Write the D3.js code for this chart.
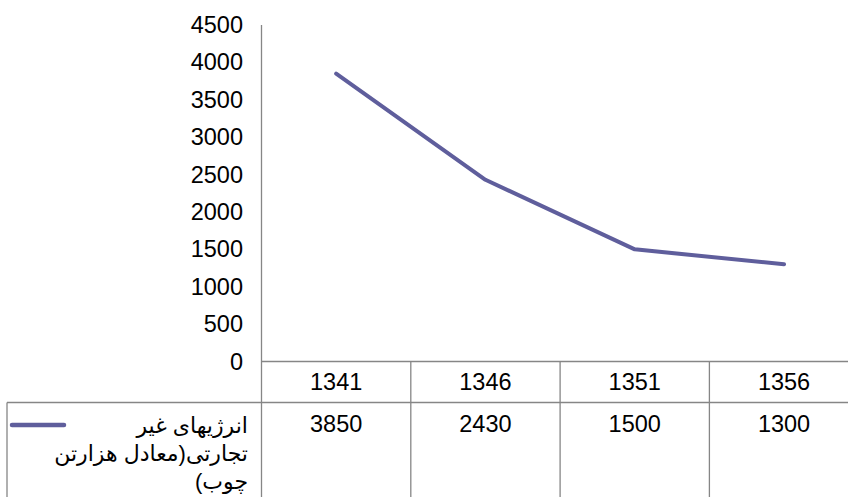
<!DOCTYPE html>
<html>
<head>
<meta charset="utf-8">
<script src="https://cdn.jsdelivr.net/npm/d3@7"></script>
<style>
  body { margin: 0; background: #fff; }
  svg text { font-family: "Liberation Sans", Arial, "DejaVu Sans", sans-serif; fill: #000; }
</style>
</head>
<body>
<div id="chart"></div>
<script>
// chart data
const years = ["1341", "1346", "1351", "1356"];
const values = [3850, 2430, 1500, 1300];
const seriesLabel = ["انرژیهای غیر", "تجارتی(معادل هزارتن", "چوب)"];
const yTicks = [0, 500, 1000, 1500, 2000, 2500, 3000, 3500, 4000, 4500];

const width = 848, height = 497;
const plotLeft = 261.5, plotTop = 25, plotBottom = 361.5;
const colWidth = 149.3;
const rowBottom = 402.5;
const gridColor = "#868686";
const lineColor = "#5f5e9c";
const fontSize = "23.5px";

const svg = d3.select("#chart").append("svg")
    .attr("width", width)
    .attr("height", height);

const x = d3.scaleBand()
    .domain(years)
    .range([plotLeft, plotLeft + colWidth * years.length]);

const y = d3.scaleLinear()
    .domain([0, 4500])
    .range([plotBottom, plotTop]);

// y axis labels, no ticks
svg.append("g")
    .selectAll("text")
    .data(yTicks)
    .enter().append("text")
    .attr("x", 243)
    .attr("y", d => y(d) + 8)
    .style("text-anchor", "end")
    .style("font-size", fontSize)
    .text(d => d);

// axis + table lines
const lines = svg.append("g").attr("stroke", gridColor).attr("stroke-width", 1.3);
lines.append("line")
    .attr("x1", plotLeft).attr("x2", plotLeft)
    .attr("y1", plotTop).attr("y2", height);
lines.append("line")
    .attr("x1", plotLeft).attr("x2", width)
    .attr("y1", plotBottom).attr("y2", plotBottom);
lines.append("line")
    .attr("x1", 7).attr("x2", width)
    .attr("y1", rowBottom).attr("y2", rowBottom);
lines.append("line")
    .attr("x1", 7).attr("x2", 7)
    .attr("y1", rowBottom).attr("y2", height);
lines.selectAll(".div")
    .data(years.slice(1))
    .enter().append("line")
    .attr("class", "div")
    .attr("x1", d => x(d)).attr("x2", d => x(d))
    .attr("y1", plotBottom).attr("y2", height);

// series line
const line = d3.line()
    .x((d, i) => x(years[i]) + x.bandwidth() / 2)
    .y(d => y(d));

svg.append("path")
    .datum(values)
    .attr("d", line)
    .attr("fill", "none")
    .attr("stroke", lineColor)
    .attr("stroke-width", 4)
    .attr("stroke-linecap", "round")
    .attr("stroke-linejoin", "round");

// data table: categories and values
svg.append("g").selectAll("text")
    .data(years)
    .enter().append("text")
    .attr("x", d => x(d) + x.bandwidth() / 2)
    .attr("y", 390)
    .style("text-anchor", "middle")
    .style("font-size", fontSize)
    .text(d => d);

svg.append("g").selectAll("text")
    .data(values)
    .enter().append("text")
    .attr("x", (d, i) => x(years[i]) + x.bandwidth() / 2)
    .attr("y", 432)
    .style("text-anchor", "middle")
    .style("font-size", fontSize)
    .text(d => d);

// legend key
svg.append("line")
    .attr("x1", 12).attr("x2", 64)
    .attr("y1", 425).attr("y2", 425)
    .attr("stroke", lineColor)
    .attr("stroke-width", 4.5)
    .attr("stroke-linecap", "round");

svg.append("g").selectAll("text")
    .data(seriesLabel)
    .enter().append("text")
    .attr("x", 248)
    .attr("y", (d, i) => 433 + i * 28)
    .attr("direction", "rtl")
    .style("text-anchor", "start")
    .style("font-size", "22px")
    .text(d => d);
</script>
</body>
</html>
